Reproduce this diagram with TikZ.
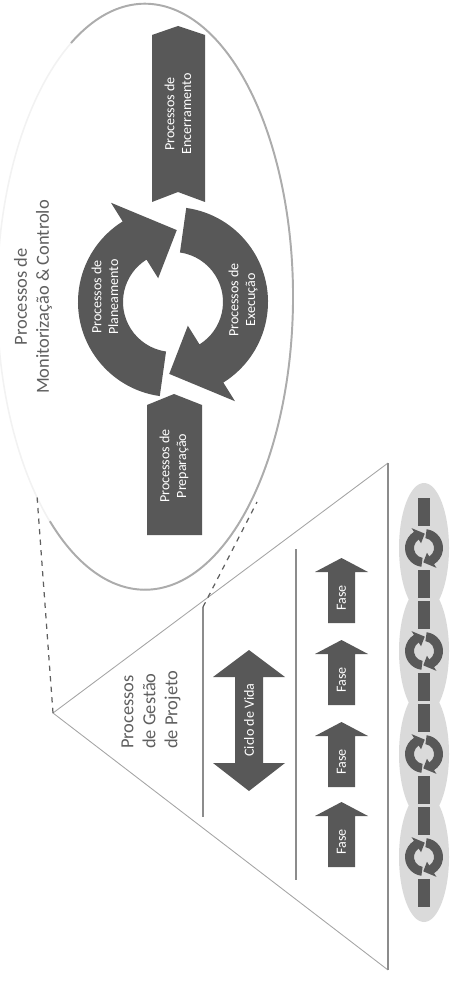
\documentclass[tikz,border=0pt]{standalone}
\usepackage{fontspec}
\setmainfont{Carlito}
\usepackage{tikz}
\definecolor{escuro}{RGB}{88,88,88}
\definecolor{claro}{RGB}{218,218,218}
\definecolor{linha}{RGB}{165,165,165}
\definecolor{barra}{RGB}{140,140,140}
\definecolor{texto}{RGB}{95,95,95}

\begin{document}
\begin{tikzpicture}[x=0.02cm, y=-0.02cm,
    rotulo/.style={rotate=90, text=white, align=center, inner sep=0pt,
        font=\fontsize{8}{9.5}\selectfont},
    titulo/.style={rotate=90, text=texto, inner sep=0pt,
        font=\fontsize{10.5}{12.5}\selectfont},
    barra/.style={draw=barra, line width=1.6pt},
    ciclo/.pic={
        \foreach \r in {0,180}
            \fill[escuro] (98+\r:95) arc[start angle=98+\r, end angle=238+\r, radius=95]
                -- (238+\r:117) -- (273+\r:72) -- (238+\r:28) -- (238+\r:50)
                arc[start angle=238+\r, end angle=98+\r, radius=50] -- cycle;
    }]
    \useasboundingbox (0,0) rectangle (449,982);

    % Elipse dos processos
    \draw[gray!10, line width=0.9pt] (145,297) ellipse[x radius=148, y radius=293];
    \draw[gray!65, line width=1.1pt] (71,43) arc[start angle=-120, end angle=130, x radius=148, y radius=293];

    % Pontos do triangulo e das linhas
    \coordinate (apice) at (53,713);
    \coordinate (topo) at (388,463);
    \coordinate (base) at (388,970);
    \coordinate (e1) at (37,496);
    \coordinate (e2) at (257,502);
    \coordinate (c1) at (203,607);
    \coordinate (c2) at (203,817);
    \coordinate (m1) at (296,549);
    \coordinate (m2) at (296,880);

    \draw[linha, line width=0.5pt] (topo) -- (apice) -- (base);
    \draw[barra] (topo) -- (base);
    \draw[barra] (c1) -- (c2);
    \draw[barra] (m1) -- (m2);
    \draw[dashed, texto, line width=0.7pt] (apice) -- (e1);
    \draw[dashed, texto, line width=0.7pt] (c1) -- (e2);

    % Titulos
    \node[titulo, align=center] (monit) at (33,297) {Processos de\\Monitorização \& Controlo};
    \node[titulo, align=left] (gestao) at (151,710) {Processos\\de Gestão\\de Projeto};

    % Processos de inicio e fim
    \fill[escuro] (152,35) -- (178,26) -- (205,35) -- (205,202) -- (178,192) -- (152,202) -- cycle;
    \node[rotulo] (enc) at (178,114) {Processos de\\Encerramento};
    \fill[escuro] (147,405) -- (174,394) -- (202,405) -- (202,535) -- (147,535) -- cycle;
    \node[rotulo] (prep) at (174,466) {Processos de\\Preparação};

    % Ciclo central
    \pic at (173,302) {ciclo};
    \node[rotulo] (plan) at (105,297) {Processos de\\Planeamento};
    \node[rotulo] (exec) at (243,300) {Processos de\\Execução};

    % Ciclo de vida e fases
    \fill[escuro] (249,650) -- (285,677) -- (263,677) -- (263,763) -- (285,763) -- (249,791)
        -- (213,763) -- (235,763) -- (235,677) -- (213,677) -- cycle;
    \node[rotulo] (vida) at (249,720) {Ciclo de Vida};

    \foreach \t [count=\i] in {558,640,722,802} {
        \fill[escuro] (341.5,\t) -- (368,\t+14) -- (355,\t+14) -- (355,\t+65)
            -- (328,\t+65) -- (328,\t+14) -- (315,\t+14) -- cycle;
        \node[rotulo] (fase\i) at (341.5,\t+40) {Fase};
    }

    % Cadeia de ciclos
    \foreach \c in {548,651,754,857}
        \fill[claro] (424,\c) ellipse[x radius=25, y radius=65];
    \foreach \c in {548,651,754,857} {
        \fill[escuro] (418,\c-50) rectangle (430,\c-22);
        \fill[escuro] (418,\c+22) rectangle (430,\c+50);
        \pic[scale=0.2] at (424,\c) {ciclo};
    }
\end{tikzpicture}
\end{document}
